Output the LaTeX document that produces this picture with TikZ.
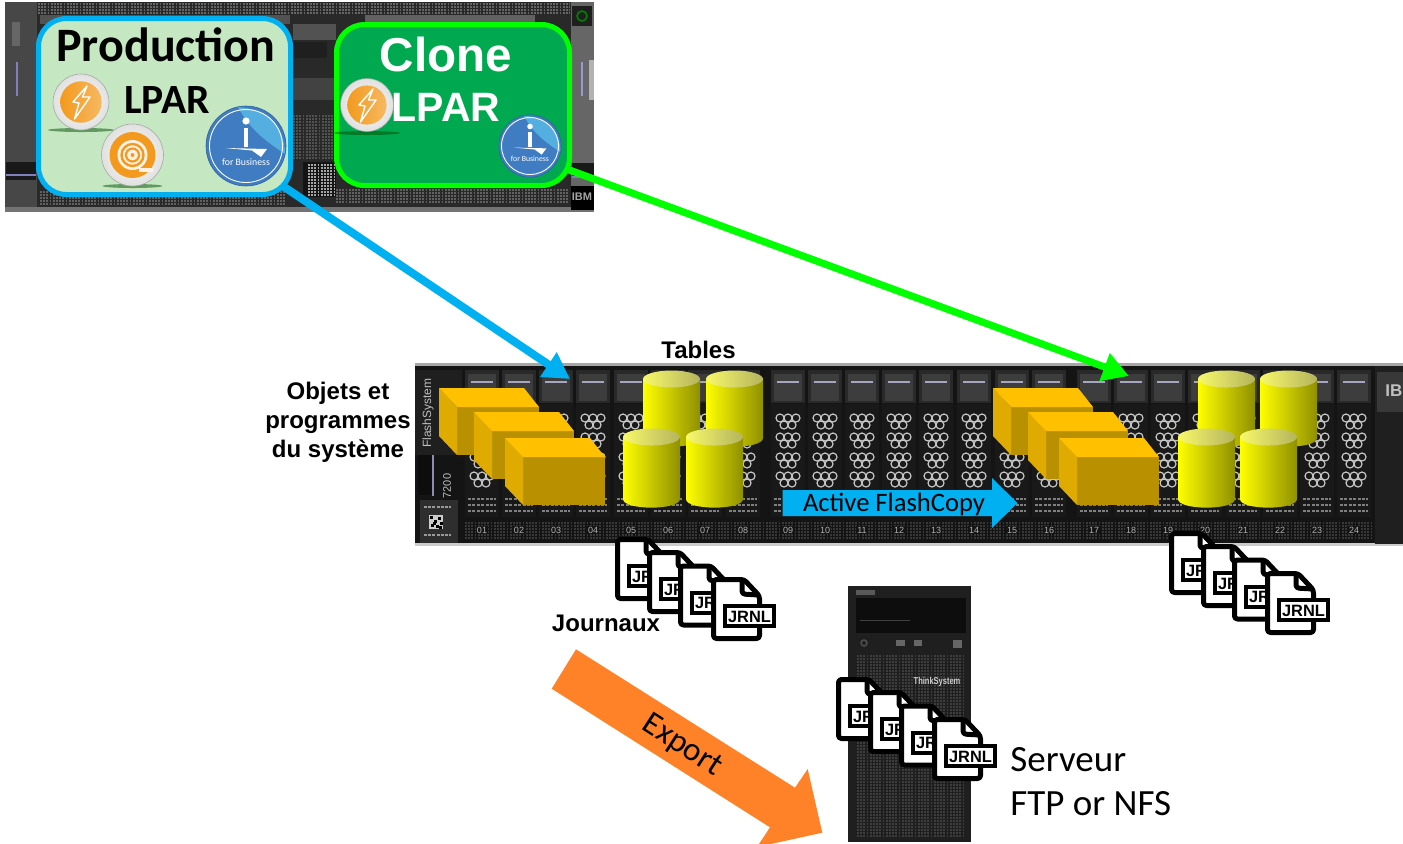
\documentclass[tikz,border=0pt]{standalone}
\usepackage{fontspec}
\setmainfont{Liberation Sans}
\newfontfamily\calib{Carlito}
\usetikzlibrary{arrows.meta,shadings}
\pgfdeclarelayer{art}
\pgfdeclarelayer{links}
\pgfsetlayers{art,links,main}
\definecolor{skyb}{HTML}{00B0F0}
\definecolor{lime}{HTML}{00FF00}
\definecolor{prodfill}{HTML}{C5E8C2}
\definecolor{clonefill}{HTML}{00A94F}
\definecolor{amberT}{HTML}{FFC000}
\definecolor{amberL}{HTML}{E0AB00}
\definecolor{amberF}{HTML}{B89000}
\definecolor{exportc}{HTML}{FF8228}
\definecolor{ibmblue}{HTML}{3F7CC2}
\definecolor{ibmlight}{HTML}{55AEE0}
\definecolor{orangeI}{HTML}{F39A1E}
\definecolor{olive}{HTML}{8F8F00}
\definecolor{capL}{HTML}{F8F86A}
\definecolor{capR}{HTML}{B4B45E}
\tikzset{
  lpar/.style={rectangle,line width=2.5pt,rounded corners=14pt,inner sep=0pt},
  lbl/.style={inner sep=0pt,font=\bfseries\fontsize{12}{14.5}\selectfont,align=center},
  link/.style={line width=#1,-{Triangle[length=13pt,width=14pt]}},
  docline/.style={line width=2.5pt,rounded corners=1.5pt,line join=round},
  num/.style={inner sep=0pt,text=black!30,font=\fontsize{4.5}{5}\selectfont},
}
\newcommand\ventgrid[5]{%
  \pgfmathsetmacro\vstep{#2+3}
  \foreach \vy in {#2,\vstep,...,#4}
    \draw[#5,line width=.9pt,dash pattern=on .9pt off .7pt] (#1,\vy)--(#3,\vy);}
\newcommand\drivebay[1]{%
  \fill[black!84] (#1-17,370) rectangle (#1+17,403);
  \fill[black!76] (#1-14,374) rectangle (#1+14,401);
  \draw[blue!30!black!35,line width=.9pt] (#1-11,382)--(#1+11,382);
  \fill[black!90] (#1-17,404) rectangle (#1+17,517);
  \foreach \my in {418,437,457,476}
    {\foreach \mx in {-8,0,8}
      \draw[black!22,line width=.6pt] (#1+\mx,\my) circle[radius=4];
     \foreach \mx in {-4,4}
      \draw[black!22,line width=.6pt] (#1+\mx,\my+7) circle[radius=4];}
  \foreach \my in {499,505,511}
    \draw[black!50,line width=.8pt,dash pattern=on 1.5pt off .7pt] (#1-14,\my)--(#1+14,\my);}
\newcommand\cuboid[2]{%
  \begin{scope}[shift={(#1,#2)}]
    \fill[amberF] (18,19) rectangle (100,67);
    \fill[amberL] (0,0)--(18,19)--(18,67)--(0,48)--cycle;
    \fill[amberT] (0,0)--(85,0)--(100,19)--(18,19)--cycle;
  \end{scope}}
\newcommand\cyl[3]{% left x, top y, bottom y
  \shade[left color=yellow,middle color=yellow,right color=olive]
    (#1,#2)--(#1,#3) .. controls (#1,#3+11.5) and (#1+57,#3+11.5) .. (#1+57,#3)--(#1+57,#2)--cycle;
  \shade[left color=capL,right color=capR]
    (#1+28.5,#2) ellipse[x radius=28.5,y radius=8.5];}
\newcommand\jdoc[2]{%
  \begin{scope}[shift={(#1,#2)}]
    \filldraw[fill=white,draw=black,docline] (2.5,2.5)--(33,2.5)--(48.5,19)--(48.5,61.5)--(2.5,61.5)--cycle;
    \draw[docline] (31,3)--(31,17)--(48,18);
    \filldraw[fill=white,draw=black,line width=2pt] (14,29) rectangle (63,49);
    \node[inner sep=0pt,font=\bfseries\fontsize{8.2}{9}\selectfont] at (38.5,39.5) {JRNL};
  \end{scope}}
\newcommand\jstack[2]{%
  \jdoc{#1}{#2}\jdoc{#1+32}{#2+13}\jdoc{#1+63}{#2+26.5}\jdoc{#1+96}{#2+40}}
\newcommand\boltbadge[3]{%
  \fill[black!70!green,opacity=.5] (#1,#2+28) ellipse[x radius=33,y radius=2];
  \shade[inner color=white,outer color=black!12] (#1,#2) circle[radius=#3];
  \draw[black!35,line width=.3pt] (#1,#2) circle[radius=#3];
  \shade[left color=orangeI,right color=orangeI!70!white] (#1,#2) circle[radius=#3*.74];
  \draw[white,line width=.7pt,line join=round] (#1+6,#2-16)--(#1-8,#2)--(#1-2,#2+1)--(#1-6.5,#2+17)--(#1+9,#2-5)--(#1+1.5,#2-5)--cycle;}
\newcommand\spiralbadge[3]{%
  \fill[black!70!green,opacity=.5] (#1,#2+31) ellipse[x radius=30,y radius=2];
  \shade[inner color=white,outer color=black!12] (#1,#2) circle[radius=#3];
  \draw[black!35,line width=.3pt] (#1,#2) circle[radius=#3];
  \fill[orangeI] (#1,#2) circle[radius=23];
  \fill[white!90!orange] (#1,#2) circle[radius=15];
  \draw[orangeI,line width=1.2pt] (#1,#2) circle[radius=11];
  \draw[orangeI,line width=1.1pt] (#1,#2) circle[radius=6.5];
  \fill[orangeI] (#1,#2) circle[radius=2];
  \fill[white!90!orange] (#1+6,#2+13) rectangle (#1+20,#2+17);}
\newcommand\ibmi[5]{% x,y,scale,fontsize,node name
  \begin{scope}[shift={(#1,#2)},scale=#3]
    \fill[ibmblue] (0,0) circle[radius=40];
    \fill[ibmlight] (-8,-39) .. controls (5,-15) and (20,-5) .. (39,8) .. controls (39,-20) and (20,-37) .. cycle;
    \draw[white,line width=.45pt] (0,0) circle[radius=36.5];
    \draw[ibmblue!80!black,line width=.3pt] (0,0) circle[radius=40];
    \fill[white] (0,-25) circle[radius=3.6];
    \fill[white] (-2,-18) rectangle (2,1);
    \fill[white] (-21,2)--(21,3)--(15,11)--(6,4.5)--cycle;
    \node[inner sep=0pt,text=white,font=\calib\fontsize{#4}{#4}\selectfont] (#5) at (0,16.5) {for Business};
  \end{scope}}
\begin{document}
\begin{tikzpicture}[x=.5pt,y=-.5pt]
\useasboundingbox (0,0) rectangle (1403,843);
\begin{pgfonlayer}{art}
  %% ---------- Power server
  \fill[black!84] (5,2) rectangle (594,212);
  \fill[black!72] (5,2) rectangle (37,212);
  \fill[black!60] (571,2) rectangle (594,212);
  \fill[black!30] (589,60) rectangle (594,100);
  \ventgrid{38}{4}{570}{14}{black!60}
  \fill[black!62] (365,15) rectangle (535,24);
  \fill[black!68] (40,15) rectangle (290,24);
  \draw[blue!50!black!50,line width=.8pt] (17,62)--(17,96);
  \draw[blue!60!black!40,line width=.8pt] (582,62)--(582,96);
  \fill[black!60] (12,22) rectangle (20,46);
  \fill[black!88] (572,6) rectangle (592,26);
  \draw[green!50!black,line width=.8pt] (582,16) circle[radius=5];
  \fill[black!90] (6,162) rectangle (36,180);
  \fill[black!90] (572,163) rectangle (594,178);
  \draw[blue!50!black!50,line width=.8pt] (572,177)--(594,177);
  \draw[blue!50!black!50,line width=.8pt] (6,175)--(36,175);
  \fill[black!55] (5,207) rectangle (594,212);
  \fill[black!68] (293,24) rectangle (336,40);
  \fill[black!88] (293,42) rectangle (327,58);
  \fill[black!74] (293,78) rectangle (336,100);
  \ventgrid{293}{116}{336}{160}{black!68}
  \fill[black!92] (303,162) rectangle (336,197);
  \ventgrid{308}{165}{336}{195}{black!35}
  \ventgrid{40}{192}{285}{204}{black!62}
  \ventgrid{336}{190}{568}{204}{black!62}
  \fill[black] (571,186) rectangle (594,210);
  \node[inner sep=0pt,text=black!35,font=\bfseries\fontsize{5.5}{6}\selectfont] (ibmtag) at (582,197) {IBM};
  %% ---------- Storage enclosure
  \fill[black!35] (415,363) rectangle (1403,367);
  \fill[black!92] (415,366) rectangle (1403,544);
  \fill[black!20] (415,543) rectangle (1403,546);
  \fill[black!88] (415,370) rectangle (462,455);
  \node[inner sep=0pt,rotate=90,text=black!25,font=\fontsize{6}{7}\selectfont] (fsname) at (428,413) {FlashSystem};
  \fill[black!95] (418,455) rectangle (434,495);
  \draw[blue!30!black!45,line width=.6pt] (433,455)--(433,496);
  \node[inner sep=0pt,rotate=90,text=black!25,font=\fontsize{5.5}{6}\selectfont] (fsmodel) at (447,486) {7200};
  \fill[black!82] (420,500) rectangle (458,543);
  \fill[black!20] (429,515) rectangle (443,529);
  \foreach \qx/\qy in {430/516,434/520,438/517,431/524,436/525,440/522,433/522,439/526}
    \fill[black] (\qx,\qy) rectangle (\qx+2.5,\qy+2.5);
  \draw[black!40,line width=.8pt,dash pattern=on 1.5pt off .6pt] (424,507)--(451,507) (424,535)--(451,535);
  \foreach \bx in {482,519,556,593,631,668,705,743,788,825,862,899,936,974,1012,1049,1094,1131,1168,1205,1243,1280,1317,1354}
    {\drivebay{\bx}}
  \ventgrid{465}{523}{1372}{538}{black!78}
  \foreach \bx/\bl in {482/01,519/02,556/03,593/04,631/05,668/06,705/07,743/08,788/09,825/10,862/11,899/12,936/13,974/14,1012/15,1049/16,1094/17,1131/18,1168/19,1205/20,1243/21,1280/22,1317/23,1354/24}
    {\fill[black!92] (\bx-6,526) rectangle (\bx+6,534);\node[num] (n\bl) at (\bx,530) {\bl};}
  \fill[black!88] (1375,366) rectangle (1403,544);
  \fill[black!78] (1377,372) rectangle (1403,412);
  \node[inner sep=0pt,anchor=west,text=black!25,font=\bfseries\fontsize{8.5}{9}\selectfont] (ibmrack) at (1385,391) {IB};
  %% ---------- Tower server
  \fill[black!88] (848,586) rectangle (971,842);
  \fill[black!65] (856,590) rectangle (875,595);
  \fill[black!95] (856,598) rectangle (966,633);
  \draw[black!75,line width=.5pt] (860,620)--(910,620);
  \draw[black!70,line width=.8pt] (864,643) circle[radius=3];
  \fill[black!60] (896,640) rectangle (905,646);
  \fill[black!60] (914,640) rectangle (922,646);
  \fill[black!60] (953,640) rectangle (962,648);
  \ventgrid{857}{656}{963}{838}{black!76}
  \node[inner sep=0pt,text=black!20,font=\bfseries\fontsize{5}{6}\selectfont] (thinksys) at (937,682) {\scalebox{.75}[1]{ThinkSystem}};
\end{pgfonlayer}

%% LPAR panels
\node[lpar,draw=skyb,fill=prodfill,minimum width=126pt,minimum height=88pt] (prod) at (164.5,106.5) {};
\node[lpar,draw=lime,fill=clonefill,minimum width=116.5pt,minimum height=80.5pt] (clone) at (453,105) {};
\node[inner sep=0pt,font=\calib\bfseries\fontsize{24}{26}\selectfont] (prodt) at (166,45) {Production};
\node[inner sep=0pt,font=\calib\bfseries\fontsize{20.8}{22}\selectfont] (prodl) at (167,100) {LPAR};
\node[inner sep=0pt,text=white,font=\bfseries\fontsize{23.8}{26}\selectfont] (clonet) at (446,54) {Clone};
\node[inner sep=0pt,text=white,font=\bfseries\fontsize{20.5}{22}\selectfont] (clonel) at (446,107) {LPAR};
\boltbadge{81}{102}{28}
\spiralbadge{132.5}{155}{31}
\boltbadge{367}{105}{26.5}
\ibmi{246}{146}{1}{4.9}{ibmp}
\ibmi{530}{146}{.78}{3.9}{ibmc}

%% connectors
\coordinate (tipA) at (570,379);
\coordinate (tipB) at (1129,376);
\begin{pgfonlayer}{links}
  \draw[link=4pt,draw=skyb] (prod.center) -- (tipA);
  \draw[link=3.6pt,draw=lime,shorten <=-8pt] (clone.-29.5) -- (tipB);
\end{pgfonlayer}

%% storage contents
\cuboid{439}{388}\cuboid{474}{412}\cuboid{505}{438}
\cuboid{993}{388}\cuboid{1028}{412}\cuboid{1059}{438}
\cyl{643}{379}{438}\cyl{706}{379}{438}\cyl{623}{437}{499}\cyl{686}{437}{499}
\cyl{1198}{379}{438}\cyl{1260}{379}{438}\cyl{1178}{437}{499}\cyl{1240}{437}{499}

%% flash copy arrow
\fill[skyb] (782.5,490)--(992,490)--(992,478)--(1017.5,503)--(992,528)--(992,516)--(782.5,516)--cycle;
\node[inner sep=0pt,font=\calib\fontsize{13.3}{15}\selectfont] (afc) at (894,504) {Active FlashCopy};

%% journals
\jstack{615}{537}
\jstack{1169}{531}
\jstack{836}{677}

%% export arrow
\fill[exportc] (576,649.3)--(551.7,688.7)--(770,827.3)--(757,847)--(822.3,832.7)--(807.7,769)--(795,787.7)--cycle;
\node[inner sep=0pt,rotate=-33,font=\calib\fontsize{16.5}{18}\selectfont] (exp) at (682,746) {Export};

%% labels
\node[lbl] (tables) at (698.5,350) {Tables};
\node[lbl] (objets) at (338,422) {Objets et\\programmes\\du système};
\node[lbl] (journ) at (606,623) {Journaux};
\node[inner sep=0pt,anchor=west,font=\calib\fontsize{18.5}{20}\selectfont] (srv1) at (1010,760) {Serveur};
\node[inner sep=0pt,anchor=west,font=\calib\fontsize{18.5}{20}\selectfont] (srv2) at (1010,804) {FTP or NFS};
\end{tikzpicture}
\end{document}
